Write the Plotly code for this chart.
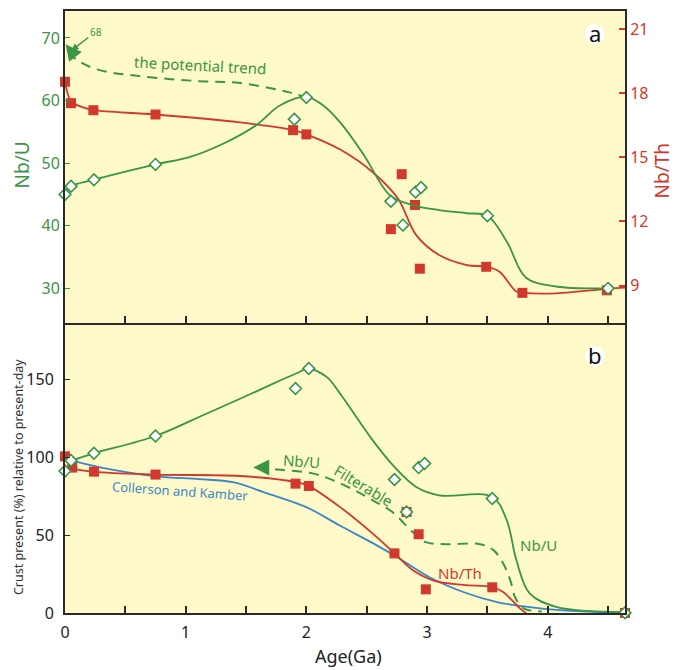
import plotly.graph_objects as go

GREEN = "#3c9447"
RED = "#d0392b"
BLUE = "#3b86c6"
BG = "#fdf9c9"
AX = "#2a2a2a"
FONT = "Noto Sans"

# ---------------- Panel a: measured ratios ----------------
age_a_nbu = [0.0, 0.05, 0.24, 0.75, 1.90, 2.00, 2.70, 2.80, 2.905, 2.95, 3.50, 4.50]
nbu_a = [45.0, 46.3, 47.35, 49.8, 57.0, 60.5, 43.9, 40.1, 45.4, 46.1, 41.6, 30.0]
age_a_nbth = [0.0, 0.05, 0.235, 0.75, 1.89, 2.00, 2.70, 2.79, 2.90, 2.94, 3.49, 3.79, 4.49]
nbth_a = [18.53, 17.53, 17.2, 17.0, 16.27, 16.07, 11.64, 14.21, 12.77, 9.79, 9.88, 8.66, 8.78]

# fitted trend curves (panel a)
fit_a_nbu_age = [0, 0.05, 0.24, 0.75, 1.03, 1.31, 1.58, 1.78, 2.0, 2.14, 2.28, 2.48, 2.69, 2.88, 3.10, 3.33, 3.50, 3.66, 3.82, 4.07, 4.50]
fit_a_nbu = [45.0, 46.3, 47.35, 49.8, 50.95, 53.1, 56.0, 59.2, 60.6, 59.2, 56.5, 51.2, 44.9, 43.3, 42.5, 42.0, 41.6, 37.5, 31.7, 30.3, 30.0]
fit_a_nbth_age = [0, 0.05, 0.15, 0.24, 0.75, 1.45, 1.89, 2.0, 2.28, 2.55, 2.76, 2.91, 3.10, 3.33, 3.49, 3.60, 3.74, 3.80, 4.07, 4.50, 4.64]
fit_a_nbth = [18.53, 17.64, 17.33, 17.2, 17.0, 16.63, 16.27, 16.07, 15.36, 14.3, 13.06, 11.36, 10.43, 9.96, 9.88, 9.65, 8.72, 8.66, 8.64, 8.85, 8.9]
trend_age = [0.03, 0.09, 0.26, 0.62, 1.11, 1.45, 1.86, 1.97]
trend_nbu = [67.8, 66.6, 65.0, 63.9, 63.1, 62.8, 61.3, 60.7]

# ---------------- Panel b: crust present (%) ----------------
age_b_nbu = [0, 0.05, 0.24, 0.75, 1.91, 2.02, 2.73, 2.83, 2.93, 2.98, 3.54, 4.64]
crust_b_nbu = [91.2, 97.9, 102.6, 113.7, 144.2, 157.1, 85.7, 64.9, 93.4, 96.0, 73.5, 0.2]
age_b_nbth = [0, 0.06, 0.24, 0.75, 1.91, 2.02, 2.73, 2.83, 2.93, 2.99, 3.54, 3.84, 4.64]
crust_b_nbth = [100.6, 93.4, 90.8, 88.9, 83.1, 81.6, 38.3, 64.9, 50.6, 15.2, 16.5, -1.3, 0.0]

fit_b_nbu_age = [0.05, 0.24, 0.75, 1.17, 1.45, 1.72, 1.92, 2.01, 2.17, 2.28, 2.55, 2.73, 2.91, 3.10, 3.54, 3.66, 3.74, 3.85, 4.07, 4.64]
fit_b_nbu = [97.9, 102.6, 113.7, 128.0, 137.6, 147.2, 154.0, 156.9, 151.5, 140.8, 110.9, 93.8, 81.0, 75.6, 74.6, 59.6, 34.0, 12.6, 4.0, 0.6]
fit_b_nbth_age = [0, 0.06, 0.24, 0.75, 1.45, 1.92, 2.01, 2.28, 2.55, 2.73, 2.88, 3.05, 3.30, 3.54, 3.63, 3.77, 3.84]
fit_b_nbth = [100.6, 93.4, 90.8, 88.9, 88.0, 84.0, 82.0, 68.0, 51.0, 38.3, 27.6, 21.0, 18.0, 16.7, 13.5, 3.0, -1.3]
ck_age = [0.05, 0.29, 0.76, 1.11, 1.39, 1.67, 2.0, 2.28, 2.55, 2.75, 3.02, 3.30, 3.58, 3.85, 4.10, 4.64]
ck_crust = [98.0, 93.6, 87.8, 86.0, 84.0, 77.0, 68.0, 56.0, 44.9, 36.0, 23.0, 13.5, 7.0, 3.8, 1.9, 0.0]
filt_age = [1.60, 1.74, 2.05, 2.22, 2.40, 2.55, 2.71, 2.88, 2.99, 3.16, 3.44, 3.55, 3.63, 3.69, 3.73, 3.80, 3.95]
filt_crust = [93.3, 92.3, 89.7, 85.3, 78.8, 72.4, 65.0, 52.0, 45.5, 44.2, 44.2, 40.4, 32.0, 21.0, 10.0, 3.0, 1.0]

fig = go.Figure()

# panel a curves (red on y2, green on y3 overlaying)
fig.add_trace(go.Scatter(x=fit_a_nbth_age, y=fit_a_nbth, xaxis="x2", yaxis="y2", mode="lines",
                         line=dict(color=RED, width=1.8, shape="spline", smoothing=1.0), hoverinfo="skip"))
fig.add_trace(go.Scatter(x=age_a_nbth, y=nbth_a, xaxis="x2", yaxis="y2", mode="markers", cliponaxis=False,
                         marker=dict(symbol="square", size=10, color=RED, line=dict(width=0))))
fig.add_trace(go.Scatter(x=fit_a_nbu_age, y=fit_a_nbu, xaxis="x2", yaxis="y3", mode="lines",
                         line=dict(color=GREEN, width=1.8, shape="spline", smoothing=1.0), hoverinfo="skip"))
fig.add_trace(go.Scatter(x=trend_age, y=trend_nbu, xaxis="x2", yaxis="y3", mode="lines",
                         line=dict(color=GREEN, width=2, dash="10px,7px", shape="spline", smoothing=1.0), hoverinfo="skip"))
fig.add_trace(go.Scatter(x=age_a_nbu, y=nbu_a, xaxis="x2", yaxis="y3", mode="markers", cliponaxis=False,
                         marker=dict(symbol="diamond", size=9, color="white", line=dict(color=GREEN, width=1.6))))

# panel b curves
fig.add_trace(go.Scatter(x=ck_age, y=ck_crust, xaxis="x", yaxis="y", mode="lines",
                         line=dict(color=BLUE, width=1.8, shape="spline", smoothing=1.0), hoverinfo="skip"))
fig.add_trace(go.Scatter(x=fit_b_nbth_age, y=fit_b_nbth, xaxis="x", yaxis="y", mode="lines", cliponaxis=False,
                         line=dict(color=RED, width=1.8, shape="spline", smoothing=1.0), hoverinfo="skip"))
fig.add_trace(go.Scatter(x=filt_age, y=filt_crust, xaxis="x", yaxis="y", mode="lines",
                         line=dict(color=GREEN, width=2, dash="10px,7px", shape="spline", smoothing=1.0), hoverinfo="skip"))
fig.add_trace(go.Scatter(x=fit_b_nbu_age, y=fit_b_nbu, xaxis="x", yaxis="y", mode="lines",
                         line=dict(color=GREEN, width=1.8, shape="spline", smoothing=1.0), hoverinfo="skip"))
fig.add_trace(go.Scatter(x=age_b_nbth, y=crust_b_nbth, xaxis="x", yaxis="y", mode="markers", cliponaxis=False,
                         marker=dict(symbol="square", size=10, color=RED, line=dict(width=0))))
fig.add_trace(go.Scatter(x=age_b_nbu, y=crust_b_nbu, xaxis="x", yaxis="y", mode="markers", cliponaxis=False,
                         marker=dict(symbol="diamond", size=9, color="white", line=dict(color=GREEN, width=1.6))))

xt_vals = [0, 0.5, 1, 1.5, 2, 2.5, 3, 3.5, 4, 4.5]
xt_text = ["0", "", "1", "", "2", "", "3", "", "4", ""]
SPLIT = 0.481

common_x = dict(range=[0, 4.64], showline=True, linecolor=AX, linewidth=2,
                ticks="inside", ticklen=7, tickwidth=1.5, tickcolor=AX, showgrid=False, zeroline=False,
                tickvals=xt_vals)

# page has an 8px body margin, so the figure is sized to end at the window edge
fig.update_layout(
    width=669, height=662,
    margin=dict(l=57, r=52, t=1, b=57),
    paper_bgcolor="white", plot_bgcolor=BG,
    showlegend=False,
    font=dict(family=FONT, size=15, color="#222"),
    xaxis=dict(**common_x, anchor="y", mirror=False, ticktext=xt_text, ticklabelstandoff=4,
               tickfont=dict(size=16, color="#222")),
    yaxis=dict(domain=[0, SPLIT], range=[0, 186], showline=True, linecolor=AX, linewidth=2, mirror=True,
               ticks="inside", ticklen=5, tickcolor=AX, tickvals=[0, 50, 100, 150], showgrid=False,
               zeroline=False, ticklabelstandoff=6, tickfont=dict(size=16, color="#222")),
    xaxis2=dict(**common_x, anchor="y2", mirror=True, matches="x", showticklabels=False),
    yaxis2=dict(domain=[SPLIT, 1], range=[7.23, 21.84], side="right", anchor="x2", showline=True,
                linecolor=AX, linewidth=2, ticks="inside", ticklen=6, tickcolor=RED, tickwidth=1.5,
                tickvals=[9, 12, 15, 18, 21], showgrid=False, zeroline=False,
                tickfont=dict(size=16, color=RED)),
    yaxis3=dict(domain=[SPLIT, 1], range=[24.4, 74.3], side="left", overlaying="y2", anchor="x2",
                showline=True, linecolor=AX, linewidth=2, ticks="inside", ticklen=5, tickcolor=GREEN,
                tickvals=[30, 40, 50, 60, 70], showgrid=False, zeroline=False,
                tickfont=dict(size=16, color=GREEN)),
)

# Circles for panel labels
for yc in [0.962, 0.426]:
    fig.add_shape(type="circle", xref="paper", yref="paper", x0=0.946 - 0.0175, x1=0.946 + 0.0175,
                  y0=yc - 0.0165, y1=yc + 0.0165, fillcolor="white", line=dict(width=0), layer="above")

ann = [
    dict(text="a", x=0.946, y=0.964, xref="paper", yref="paper", font=dict(size=22, color="#111")),
    dict(text="b", x=0.946, y=0.428, xref="paper", yref="paper", font=dict(size=22, color="#111")),
    dict(text="Nb/U", x=-0.077, y=0.745, xref="paper", yref="paper", textangle=-90,
         font=dict(size=19, color=GREEN)),
    dict(text="Nb/Th", x=1.066, y=0.735, xref="paper", yref="paper", textangle=-90,
         font=dict(size=19, color=RED)),
    dict(text="Crust present (%) relative to present-day", x=-0.083, y=0.225, xref="paper", yref="paper",
         textangle=-90, font=dict(size=12.5, color="#333")),
    dict(text="Age(Ga)", x=0.506, y=-0.072, xref="paper", yref="paper", font=dict(size=18, color="#222")),
    dict(text="the potential trend", x=1.12, y=65.6, xref="x2", yref="y3", textangle=3,
         font=dict(size=15, color=GREEN)),
    dict(text="Collerson and Kamber", x=0.96, y=78.5, xref="x", yref="y", textangle=4,
         font=dict(size=13, color=BLUE)),
    dict(text="Nb/U", x=1.96, y=97.5, xref="x", yref="y", textangle=4, font=dict(size=15, color=GREEN)),
    dict(text="Filterable", x=2.47, y=82.0, xref="x", yref="y", textangle=31, font=dict(size=15, color=GREEN)),
    dict(text="Nb/U", x=3.92, y=43.5, xref="x", yref="y", font=dict(size=15, color=GREEN)),
    dict(text="Nb/Th", x=3.27, y=25.5, xref="x", yref="y", font=dict(size=15, color=RED)),
]
for a in ann:
    a.setdefault("showarrow", False)
    a.setdefault("xanchor", "center")
    a.setdefault("yanchor", "middle")
    fig.add_annotation(**a)

# "68" arrow
fig.add_annotation(text="68", x=0.04, y=67.8, xref="x2", yref="y3", ax=26, ay=-20, showarrow=True,
                   arrowhead=2, arrowsize=1, arrowwidth=1.4, arrowcolor=GREEN, standoff=2,
                   font=dict(size=10, color=GREEN))
# arrowhead of potential trend
fig.add_annotation(text="", x=0.005, y=69.0, xref="x2", yref="y3", ax=7, ay=9, showarrow=True,
                   arrowhead=2, arrowsize=1.6, arrowwidth=2, arrowcolor=GREEN)
# arrowhead of filterable Nb/U
fig.add_annotation(text="", x=1.56, y=93.5, xref="x", yref="y", ax=6, ay=0, showarrow=True,
                   arrowhead=2, arrowsize=1.6, arrowwidth=2, arrowcolor=GREEN)

fig.write_html("out.html")
